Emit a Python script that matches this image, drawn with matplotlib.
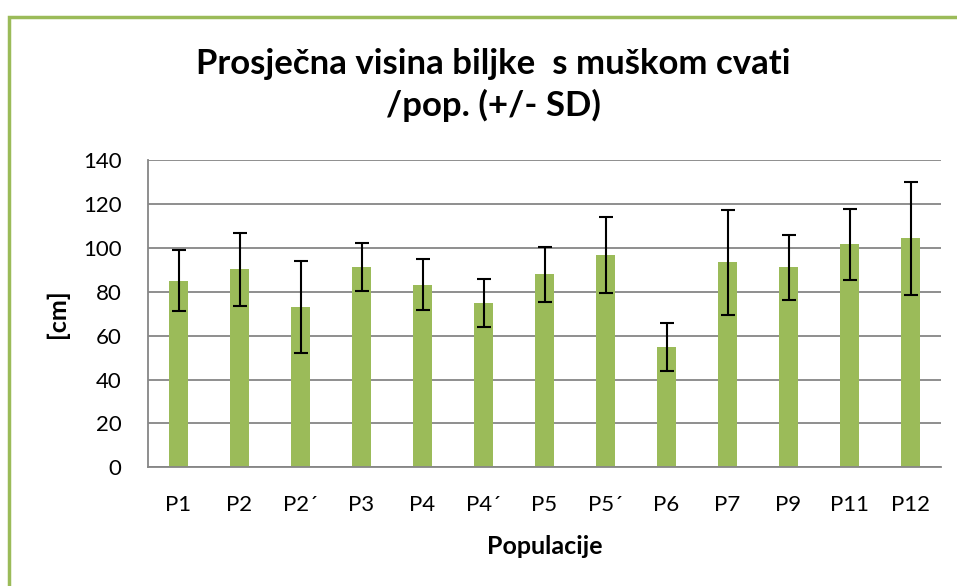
import numpy as np
import matplotlib.pyplot as plt
from matplotlib.patches import Rectangle

populations = ['P1', 'P2', 'P2´', 'P3', 'P4', 'P4´', 'P5', 'P5´', 'P6', 'P7', 'P9', 'P11', 'P12']
mean_height = [85.0, 90.2, 73.0, 91.4, 83.2, 74.9, 87.9, 96.7, 54.8, 93.4, 91.1, 101.6, 104.3]
sd_height = [14.0, 16.5, 20.8, 11.0, 11.6, 10.8, 12.5, 17.3, 11.0, 24.0, 14.8, 16.3, 25.7]

plt.rcParams['font.family'] = ['Lato', 'DejaVu Sans']

fig = plt.figure(figsize=(9.57, 5.86), dpi=100)
ax = fig.add_axes([148 / 957, 1 - 467.3 / 586, (941 - 148) / 957, (467.3 - 160) / 586])

x = np.arange(len(populations))
ax.bar(x, mean_height, width=0.31, color='#9BBB59', zorder=2)
ax.errorbar(x, mean_height, yerr=sd_height, fmt='none', ecolor='black',
            elinewidth=1.5, capsize=5, capthick=1.5, zorder=3)

ax.set_xlim(-0.5, len(populations) - 0.5)
ax.set_ylim(0, 140)
ax.set_yticks(range(0, 141, 20))
ax.set_xticks(x)
ax.set_xticklabels(populations)
ax.tick_params(axis='both', length=0, labelsize=16, colors='black')
ax.tick_params(axis='y', pad=19)
ax.tick_params(axis='x', pad=20)
ax.yaxis.grid(True, color='#868686', linewidth=1.3, zorder=0)
ax.set_axisbelow(True)
for side in ['top', 'right']:
    ax.spines[side].set_visible(False)
for side in ['left', 'bottom']:
    ax.spines[side].set_color('#868686')
    ax.spines[side].set_linewidth(1.3)

ax.set_xlabel('Populacije', fontsize=18, fontweight='bold', labelpad=14)
ax.set_ylabel('[cm]', fontsize=18, fontweight='bold', labelpad=10)

fig.text(493 / 957, 1 - 74 / 586, 'Prosječna visina biljke  s muškom cvati',
         ha='center', va='baseline', fontsize=25, fontweight='bold')
fig.text(493 / 957, 1 - 116 / 586, '/pop. (+/- SD)',
         ha='center', va='baseline', fontsize=25, fontweight='bold')

# chart-area border (cut off on the right and bottom in the original)
fig.patches.append(Rectangle((9 / 957, -0.1), 1.2, 1 - 16.5 / 586 + 0.1,
                             transform=fig.transFigure, fill=False,
                             edgecolor='#9BBB59', linewidth=2.5))

fig.savefig('out.png', dpi=100)
